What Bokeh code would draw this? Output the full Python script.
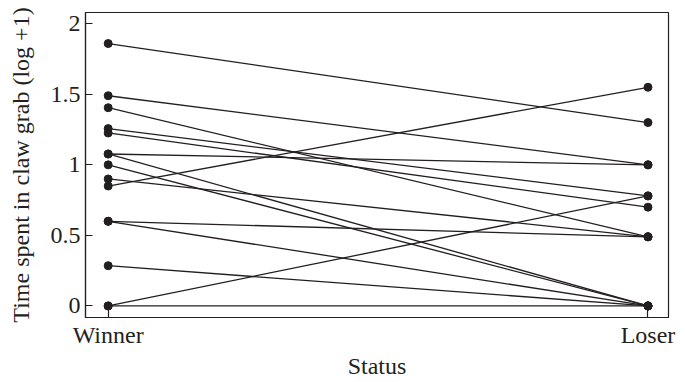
from bokeh.plotting import figure
from bokeh.models import FixedTicker, Range1d
from bokeh.embed import file_html
from bokeh.resources import INLINE

status = ["Winner", "Loser"]
winner = [1.86, 1.49, 1.405, 1.257, 1.226, 1.077, 1.077, 1.00, 0.90, 0.85, 0.60, 0.60, 0.285, 0.0, 0.0]
loser = [1.30, 1.00, 0.49, 0.78, 0.70, 1.00, 0.0, 0.0, 0.49, 1.55, 0.49, 0.0, 0.0, 0.78, 0.0]
y_ticks = [0, 0.5, 1, 1.5, 2]
y_tick_labels = ["0", "0.5", "1", "1.5", "2"]

FONT = "Liberation Serif"
INK = "#231f20"

p = figure(frame_width=583, frame_height=305, output_backend="svg", toolbar_location=None,
           x_range=Range1d(-0.042, 1.038), y_range=Range1d(-0.082, 2.08),
           min_border_left=85, min_border_right=8, min_border_top=12, min_border_bottom=40)

xs = [[0, 1] for _ in winner]
ys = [[w, l] for w, l in zip(winner, loser)]
p.multi_line(xs, ys, line_color=INK, line_width=1.3)
p.scatter([0] * len(winner), winner, size=8, color=INK)
p.scatter([1] * len(loser), loser, size=8, color=INK)

p.xgrid.visible = False
p.ygrid.visible = False
p.outline_line_color = INK
p.outline_line_width = 1.2

p.xaxis.ticker = FixedTicker(ticks=[0, 1])
p.xaxis.major_label_overrides = {i: s for i, s in enumerate(status)}
p.yaxis.ticker = FixedTicker(ticks=y_ticks)
p.yaxis.major_label_overrides = {t: s for t, s in zip(y_ticks, y_tick_labels)}

for ax in (p.xaxis[0], p.yaxis[0]):
    ax.axis_line_color = INK
    ax.axis_line_width = 1.2
    ax.major_tick_line_color = INK
    ax.major_tick_line_width = 1.2
    ax.major_tick_out = 0
    ax.minor_tick_line_color = None
    ax.major_label_text_font = FONT
    ax.major_label_text_font_size = "24px"
    ax.major_label_text_color = INK
    ax.axis_label_text_font = FONT
    ax.axis_label_text_font_size = "24px"
    ax.axis_label_text_font_style = "normal"
    ax.axis_label_text_color = INK

p.xaxis.major_tick_in = 10
p.yaxis.major_tick_in = 7
p.xaxis.major_label_standoff = 4
p.yaxis.major_label_standoff = 5
p.xaxis.axis_label = "Status"
p.yaxis.axis_label = "Time spent in claw grab (log +1)"
p.xaxis.axis_label_standoff = 2
p.yaxis.axis_label_standoff = 14
p.yaxis.major_label_orientation = "horizontal"

open("out.html", "w").write(file_html(p, INLINE))
